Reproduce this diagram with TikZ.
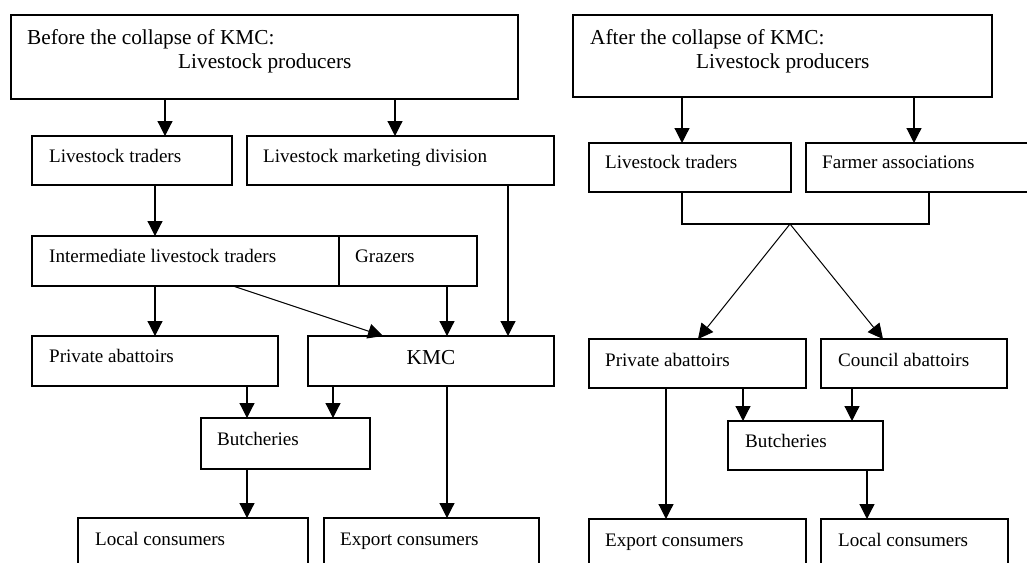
\documentclass[tikz,border=0pt]{standalone}
\usepackage{fontspec}
\setmainfont{Liberation Serif}
\usetikzlibrary{arrows.meta,calc}
\begin{document}
\begin{tikzpicture}[x=1pt,y=-1pt,
  box/.style={draw=black, line width=1.2pt, rectangle, inner sep=0pt, outer sep=0pt},
  txt/.style={anchor=base west, inner sep=0pt, font=\fontsize{19.1}{22}\selectfont},
  bigtxt/.style={anchor=base west, inner sep=0pt, font=\fontsize{21.3}{24}\selectfont},
  arr/.style={line width=1.2pt, -{Triangle[length=15pt,width=15pt]}},
  thinarr/.style={line width=1pt, -{Triangle[length=15pt,width=15pt]}},
  conn/.style={line width=1.2pt}]
\useasboundingbox (0,0) rectangle (1027,562);
\clip (0,0) rectangle (1027,562);
\fill[white] (0,0) rectangle (1027,562);
% helper to make box nodes by corners
\newcommand{\mybox}[5]{\node[box, minimum width=#4-#2, minimum height=#5-#3] (#1) at ({(#2+#4)/2},{(#3+#5)/2}) {};}
% ---------------- Left diagram ----------------
\mybox{topL}{11}{15}{518}{99}
\mybox{ltL}{32}{136}{232}{185}
\mybox{lmd}{247}{136}{554}{185}
\mybox{ilt}{32}{236}{339}{286}
\mybox{graz}{339}{236}{477}{286}
\mybox{paL}{32}{336}{278}{386}
\mybox{kmc}{308}{336}{554}{386}
\mybox{butL}{201}{418}{370}{469}
\mybox{lcL}{78}{518}{308}{590}
\mybox{ecL}{324}{518}{539}{590}
\node[bigtxt] (topLa) at (27,44) {Before the collapse of KMC:};
\node[bigtxt] (topLb) at (178,68) {Livestock producers};
\node[txt] (ltLt) at (49,162) {Livestock traders};
\node[txt] (lmdt) at (263,162) {Livestock marketing division};
\node[txt] (iltt) at (49,262) {Intermediate livestock traders};
\node[txt] (grazt) at (355,262) {Grazers};
\node[txt] (paLt) at (49,362) {Private abattoirs};
\node[bigtxt, anchor=base] (kmct) at (431,364) {KMC};
\node[txt] (butLt) at (217,445) {Butcheries};
\node[txt] (lcLt) at (95,545) {Local consumers};
\node[txt] (ecLt) at (340,545) {Export consumers};
\coordinate (xa) at (165,0);
\coordinate (xb) at (395,0);
\coordinate (xc) at (155,0);
\coordinate (xd) at (233,0);
\coordinate (xe) at (383,0);
\coordinate (xf) at (447,0);
\coordinate (xg) at (508,0);
\coordinate (xh) at (247,0);
\coordinate (xi) at (333,0);
\draw[arr] (topL.south -| xa) -- (ltL.north -| xa);
\draw[arr] (topL.south -| xb) -- (lmd.north -| xb);
\draw[arr] (ltL.south -| xc) -- (ilt.north -| xc);
\draw[arr] (ilt.south -| xc) -- (paL.north -| xc);
\draw[thinarr] (ilt.south -| xd) -- (kmc.north -| xe);
\draw[arr] (graz.south -| xf) -- (kmc.north -| xf);
\draw[arr] (lmd.south -| xg) -- (kmc.north -| xg);
\draw[arr] (paL.south -| xh) -- (butL.north -| xh);
\draw[arr] (kmc.south -| xi) -- (butL.north -| xi);
\draw[arr] (butL.south -| xh) -- (lcL.north -| xh);
\draw[arr] (kmc.south -| xf) -- (ecL.north -| xf);
% ---------------- Right diagram ----------------
\mybox{topR}{573}{15}{992}{97}
\mybox{ltR}{589}{143}{791}{192}
\mybox{fa}{806}{143}{1045}{192}
\mybox{paR}{589}{339}{806}{388}
\mybox{ca}{821}{339}{1007}{388}
\mybox{butR}{728}{421}{883}{470}
\mybox{ecR}{589}{519}{806}{590}
\mybox{lcR}{821}{519}{1008}{590}
\node[bigtxt] (topRa) at (590,44) {After the collapse of KMC:};
\node[bigtxt] (topRb) at (696,68) {Livestock producers};
\node[txt] (ltRt) at (605,168) {Livestock traders};
\node[txt] (fat) at (822,168) {Farmer associations};
\node[txt] (paRt) at (605,366) {Private abattoirs};
\node[txt] (cat) at (838,366) {Council abattoirs};
\node[txt] (butRt) at (745,447) {Butcheries};
\node[txt] (ecRt) at (605,546) {Export consumers};
\node[txt] (lcRt) at (838,546) {Local consumers};
\coordinate (ra) at (682,0);
\coordinate (rb) at (914,0);
\coordinate (rc) at (929,0);
\coordinate (apex) at (790,224);
\coordinate (rd) at (698,0);
\coordinate (re) at (883,0);
\coordinate (rf) at (666,0);
\coordinate (rg) at (743,0);
\coordinate (rh) at (852,0);
\coordinate (ri) at (867,0);
\draw[arr] (topR.south -| ra) -- (ltR.north -| ra);
\draw[arr] (topR.south -| rb) -- (fa.north -| rb);
\draw[conn] (ltR.south -| ra) -- (ra |- apex) -- (rc |- apex) -- (fa.south -| rc);
\draw[thinarr] (apex) -- (paR.north -| rd);
\draw[thinarr] (apex) -- (ca.north -| re);
\draw[arr] (paR.south -| rf) -- (ecR.north -| rf);
\draw[arr] (paR.south -| rg) -- (butR.north -| rg);
\draw[arr] (ca.south -| rh) -- (butR.north -| rh);
\draw[arr] (butR.south -| ri) -- (lcR.north -| ri);
\end{tikzpicture}
\end{document}
